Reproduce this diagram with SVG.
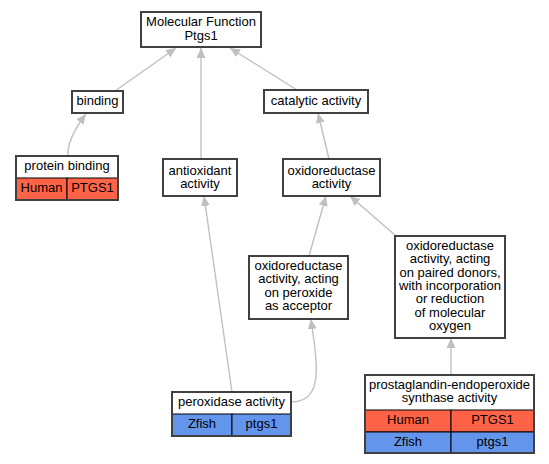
<svg xmlns="http://www.w3.org/2000/svg" width="549" height="464" viewBox="0 0 549 464">
<defs>
<style>
text{font-family:"Liberation Sans",Arial,sans-serif;font-size:13px;fill:#000;text-anchor:middle}
.box{fill:#fff;stroke:#404040;stroke-width:2}
.hum{fill:#ff6347;stroke:#000;stroke-width:1}
.zf{fill:#6495ed;stroke:#000;stroke-width:1}
.cell{fill:none;stroke:#000;stroke-width:1}
.frame{fill:none;stroke:#404040;stroke-width:2}
.edge{fill:none;stroke:#c0c0c0;stroke-width:1.4;marker-end:url(#arr)}
</style>
<marker id="arr" viewBox="0 0 10 10" refX="10" refY="5" markerWidth="10" markerHeight="10" markerUnits="userSpaceOnUse" orient="auto">
<path d="M0,0.5 L10,5 L0,9.5 z" fill="#c0c0c0"/>
</marker>
</defs>
<rect width="549" height="464" fill="#fff"/>
<g id="edges">
<path class="edge" d="M115,91 L176,48"/>
<path class="edge" d="M201,159 L201,48"/>
<path class="edge" d="M297,90 L230,48"/>
<path class="edge" d="M68,156 C67,144 73,131 86,114"/>
<path class="edge" d="M329,159 L318,113"/>
<path class="edge" d="M309,256 L326,196"/>
<path class="edge" d="M396,236 L350,196"/>
<path class="edge" d="M232,392 L204,196"/>
<path class="edge" d="M291,402 C310,402 318,390 316,360 C315,345 313,335 311,319"/>
<path class="edge" d="M451,375 L451,338"/>
</g>
<g id="mf">
<rect class="box" x="141" y="12" width="120" height="35"/>
<text x="201" y="26">Molecular Function</text>
<text x="201" y="39.5">Ptgs1</text>
</g>
<g id="binding">
<rect class="box" x="72" y="91" width="51" height="22"/>
<text x="97.5" y="105">binding</text>
</g>
<g id="catalytic">
<rect class="box" x="264" y="90" width="104" height="23"/>
<text x="316" y="105">catalytic activity</text>
</g>
<g id="protein_binding">
<rect x="16" y="156" width="102" height="22" fill="#fff"/>
<rect class="hum" x="16" y="178" width="51" height="22"/>
<rect class="hum" x="67" y="178" width="51" height="22"/>
<rect class="frame" x="16" y="156" width="102" height="44"/>
<text x="67" y="170">protein binding</text>
<text x="41.5" y="192">Human</text>
<text x="92.5" y="192">PTGS1</text>
</g>
<g id="antioxidant">
<rect class="box" x="163" y="159" width="74" height="37"/>
<text x="200" y="175">antioxidant</text>
<text x="200" y="188.3">activity</text>
</g>
<g id="oxidoreductase">
<rect class="box" x="283" y="159" width="97" height="37"/>
<text x="331.5" y="174.5">oxidoreductase</text>
<text x="331.5" y="187.8">activity</text>
</g>
<g id="peroxide_acceptor">
<rect class="box" x="249" y="256" width="99" height="63"/>
<text x="298.5" y="270">oxidoreductase</text>
<text x="298.5" y="283.3">activity, acting</text>
<text x="298.5" y="296.6">on peroxide</text>
<text x="298.5" y="309.9">as acceptor</text>
</g>
<g id="paired_donors">
<rect class="box" x="395" y="236" width="110" height="102"/>
<text x="450" y="250">oxidoreductase</text>
<text x="450" y="263.3">activity, acting</text>
<text x="450" y="276.6">on paired donors,</text>
<text x="450" y="289.9">with incorporation</text>
<text x="450" y="303.2">or reduction</text>
<text x="450" y="316.5">of molecular</text>
<text x="450" y="329.8">oxygen</text>
</g>
<g id="peroxidase">
<rect x="172" y="392" width="119" height="22" fill="#fff"/>
<rect class="zf" x="172" y="414" width="60" height="22"/>
<rect class="zf" x="232" y="414" width="59" height="22"/>
<rect class="frame" x="172" y="392" width="119" height="44"/>
<text x="231.5" y="406">peroxidase activity</text>
<text x="202" y="428">Zfish</text>
<text x="261.5" y="428">ptgs1</text>
</g>
<g id="prostaglandin">
<rect x="365" y="375" width="169" height="35" fill="#fff"/>
<rect class="hum" x="365" y="410" width="86" height="22"/>
<rect class="hum" x="451" y="410" width="83" height="22"/>
<rect class="zf" x="365" y="432" width="86" height="21"/>
<rect class="zf" x="451" y="432" width="83" height="21"/>
<rect class="frame" x="365" y="375" width="169" height="78"/>
<text x="449.5" y="389">prostaglandin-endoperoxide</text>
<text x="449.5" y="402.3">synthase activity</text>
<text x="408" y="424">Human</text>
<text x="492.5" y="424">PTGS1</text>
<text x="408" y="445.5">Zfish</text>
<text x="492.5" y="445.5">ptgs1</text>
</g>
</svg>
